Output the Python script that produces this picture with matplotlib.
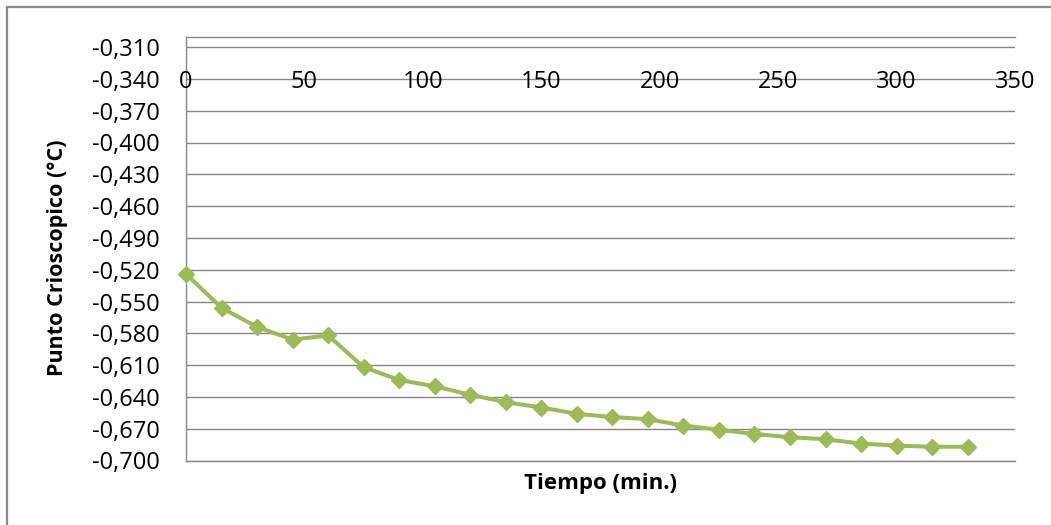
import matplotlib
matplotlib.use("Agg")
import matplotlib.pyplot as plt
from matplotlib.ticker import FuncFormatter, FixedLocator
from matplotlib.patches import Rectangle
import matplotlib.transforms as mtransforms

# ---- data ----
minutes = [0, 15, 30, 45, 60, 75, 90, 105, 120, 135, 150, 165,
           180, 195, 210, 225, 240, 255, 270, 285, 300, 315, 330]
punto = [-0.524, -0.556, -0.574, -0.586, -0.582, -0.612, -0.624, -0.630,
         -0.638, -0.645, -0.650, -0.656, -0.659, -0.661, -0.667, -0.671,
         -0.675, -0.678, -0.680, -0.684, -0.686, -0.687, -0.687]
x_ticks = [0, 50, 100, 150, 200, 250, 300, 350]
y_ticks = [-0.700, -0.670, -0.640, -0.610, -0.580, -0.550, -0.520, -0.490,
           -0.460, -0.430, -0.400, -0.370, -0.340, -0.310]
x_label = "Tiempo (min.)"
y_label = "Punto Crioscopico (°C)"

W, H = 1051, 525
plt.rcParams['font.family'] = ['Open Sans', 'DejaVu Sans']
fig = plt.figure(figsize=(W / 100, H / 100), dpi=100)

left, right, top, bottom = 186, 1015, 36.5, 460.5
ax = fig.add_axes([left / W, 1 - bottom / H, (right - left) / W, (bottom - top) / H])

grid_c = '#868686'
line_c = '#9BBB59'

ax.set_xlim(0, 350)
ax.set_ylim(-0.700, -0.300)

ax.yaxis.set_major_locator(FixedLocator(y_ticks))
ax.yaxis.set_major_formatter(FuncFormatter(lambda v, p: f"{v:.3f}".replace('.', ',')))
ax.grid(axis='y', color=grid_c, linewidth=1.0)
ax.set_axisbelow(True)
ax.tick_params(axis='y', length=0, pad=19, labelsize=17, labelcolor='#000000')

# x axis sits at the top; labels drawn just below, across the -0,340 line
ax.set_xticks(x_ticks)
ax.tick_params(axis='x', length=0, labelbottom=False, labeltop=False,
               bottom=False, top=False)
trans = mtransforms.blended_transform_factory(ax.transData, ax.transAxes)
yb = (bottom - 87.5) / (bottom - top)
for t in x_ticks:
    ax.text(t, yb, str(t), transform=trans, ha='center', va='baseline',
            fontsize=17, color='#000000')

ax.spines['right'].set_visible(False)
for s in ['left', 'top', 'bottom']:
    ax.spines[s].set_color(grid_c)
    ax.spines[s].set_linewidth(1.0)

ax.plot(minutes, punto, color=line_c, linewidth=2.9, marker='D',
        markersize=8.5, markerfacecolor=line_c, markeredgecolor=line_c,
        clip_on=False, zorder=3)

fig.text(600 / W, 1 - 483 / H, x_label, ha='center', va='center',
         fontsize=16, fontweight='bold')
fig.text(57 / W, 1 - 258 / H, y_label, ha='center', va='center',
         rotation=90, fontsize=15.5, fontweight='bold')

# outer chart frame (partially cropped)
frame = Rectangle((6.5 / W, -0.2), 1.2, (1 - 7 / H) + 0.2,
                  transform=fig.transFigure, fill=False,
                  edgecolor='#8a8a8a', linewidth=1.6, clip_on=False)
fig.patches.append(frame)

fig.savefig('out.png', dpi=100)
